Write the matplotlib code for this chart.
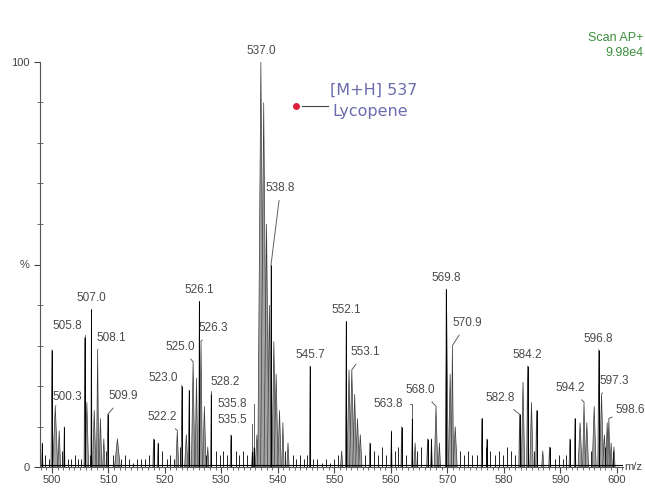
import matplotlib.pyplot as plt
from matplotlib.ticker import MultipleLocator

plt.rcParams['font.family'] = ['Liberation Sans', 'DejaVu Sans']

#Peaks (m/z, relative intensity %, half width in m/z)
peak_mz = [498.3, 500.0, 500.6, 501.3, 502.2, 505.8, 506.2, 507.0, 507.5, 508.1,
           508.6, 509.2, 509.9, 511.6, 518.0, 518.8, 522.2, 523.0, 523.8, 524.3,
           525.0, 525.6, 526.1, 526.4, 527.0, 527.6, 528.2, 531.7, 535.5, 535.8,
           536.3, 537.0, 537.5, 538.0, 538.5, 538.8, 539.3, 539.7, 540.3, 540.9,
           541.8, 545.7, 551.3, 552.1, 552.6, 553.1, 553.6, 554.1, 554.6, 556.3,
           560.1, 561.9, 563.8, 564.3, 566.5, 567.2, 568.0, 568.6, 569.8, 569.9,
           570.5, 570.9, 571.4, 576.1, 577.0, 582.8, 583.4, 584.2, 584.9, 585.8,
           586.9, 588.1, 591.7, 592.6, 593.5, 594.2, 594.7, 596.0, 596.8, 597.3,
           597.8, 598.3, 598.6, 599.0, 599.5]
peak_int = [6, 29, 15, 9, 10, 32, 16, 39, 14, 29,
            12, 7, 13, 7, 7, 6, 9, 20, 8, 19,
            26, 22, 41, 31, 15, 5, 18, 8, 4, 5,
            8, 100, 90, 60, 40, 50, 31, 23, 14, 11,
            6, 25, 4, 36, 24, 24, 18, 12, 8, 6,
            9, 10, 12, 6, 7, 7, 15, 6, 44, 38,
            23, 30, 10, 12, 7, 13, 21, 25, 16, 14,
            4, 5, 7, 12, 11, 16, 11, 15, 29, 18,
            8, 11, 12, 6, 5]
peak_wid = [0.12, 0.15, 0.45, 0.25, 0.12, 0.1, 0.3, 0.1, 0.3, 0.2,
            0.25, 0.2, 0.12, 0.5, 0.12, 0.12, 0.25, 0.12, 0.3, 0.15,
            0.3, 0.25, 0.1, 0.25, 0.3, 0.2, 0.1, 0.15, 0.15, 0.15,
            0.3, 0.55, 0.55, 0.45, 0.35, 0.12, 0.35, 0.35, 0.3, 0.2,
            0.2, 0.1, 0.2, 0.12, 0.35, 0.4, 0.35, 0.35, 0.3, 0.12,
            0.12, 0.1, 0.12, 0.2, 0.15, 0.15, 0.3, 0.2, 0.1, 0.25,
            0.3, 0.2, 0.35, 0.1, 0.1, 0.15, 0.3, 0.15, 0.3, 0.15,
            0.2, 0.15, 0.15, 0.15, 0.35, 0.25, 0.3, 0.35, 0.15, 0.35,
            0.3, 0.25, 0.2, 0.2, 0.2]

#Baseline noise spikes
noise_mz = [498.8, 499.5, 501.8, 502.8, 503.4, 504.1, 504.6, 505.2, 506.8, 509.5,
            510.8, 512.2, 512.9, 513.6, 514.3, 515.0, 515.8, 516.5, 517.2, 519.5,
            520.3, 521.0, 521.6, 522.7, 527.3, 529.0, 529.7, 530.3, 531.0, 532.6,
            533.2, 533.9, 534.5, 541.2, 542.6, 543.3, 543.9, 544.6, 545.1, 546.3,
            547.0, 547.8, 548.6, 549.3, 550.0, 550.6, 555.5, 557.0, 557.7, 558.4,
            559.2, 560.8, 561.2, 562.6, 564.6, 565.3, 572.3, 573.0, 573.7, 574.4,
            575.2, 576.9, 577.6, 578.4, 579.1, 579.8, 580.6, 581.3, 581.9, 585.3,
            589.0, 589.7, 590.4, 591.0, 595.4, 598.0, 599.3]
noise_int = [3, 2, 4, 2, 2, 3, 2, 2, 3, 4,
             3, 2, 3, 2, 1, 2, 2, 2, 3, 4,
             2, 3, 2, 5, 3, 4, 3, 4, 3, 4,
             3, 4, 3, 4, 3, 2, 3, 2, 3, 2,
             2, 1, 2, 1, 2, 3, 3, 4, 3, 5,
             3, 4, 5, 3, 4, 5, 4, 3, 4, 3,
             3, 5, 4, 3, 4, 3, 5, 4, 3, 4,
             2, 3, 2, 3, 4, 5, 4]

#Peak labels
label_txt = ['500.3', '505.8', '507.0', '508.1', '509.9', '522.2', '523.0', '525.0',
             '526.1', '526.3', '528.2', '535.8', '535.5', '537.0', '538.8', '545.7',
             '552.1', '553.1', '563.8', '568.0', '569.8', '570.9', '582.8', '584.2',
             '594.2', '596.8', '597.3', '598.6']
label_mz = [500.6, 505.8, 507.0, 508.1, 509.9, 522.2, 523.0, 525.0,
            526.1, 526.4, 528.2, 535.8, 535.5, 537.0, 538.8, 545.7,
            552.1, 553.1, 563.8, 568.0, 569.8, 570.9, 582.8, 584.2,
            594.2, 596.8, 597.3, 598.6]
label_int = [15, 32, 39, 29, 13, 9, 20, 26,
             41, 31, 18, 5, 4, 100, 50, 25,
             36, 24, 12, 15, 44, 30, 13, 25,
             16, 29, 18, 12]

#Where the labels sit (None = straight above the peak), and leader style
label_xy = [(502.8, 17.3), (502.8, 34.8), None, (510.6, 31.9), (512.6, 17.5), (519.6, 12.3),
            (519.8, 22.0), (522.7, 29.6), None, (528.5, 34.3), (530.6, 21.0), (531.9, 15.6),
            (532.0, 11.6), None, (540.5, 69.0), None, None, (555.4, 28.4),
            (559.6, 15.6), (565.3, 19.0), None, (573.5, 35.6), (579.3, 17.0), None,
            (591.7, 19.5), None, (599.5, 21.2), (602.3, 14.1)]
angled = ['505.8', '535.8', '535.5', '563.8', '528.2']

fig = plt.figure(figsize=(6.45, 4.9), dpi=100)
ax = fig.add_axes([40 / 645, 23 / 490, 583 / 645, 405 / 490])

#Draw spectrum
for m, h in zip(noise_mz, noise_int):
    ax.vlines(m, 0, h, color='black', lw=0.6)
for m, h, w in zip(peak_mz, peak_int, peak_wid):
    ax.fill([m - w, m, m + w], [0, h, 0], facecolor='#a3a3a3', edgecolor='#3c3c3c', lw=0.5)
    if w <= 0.15:
        ax.vlines(m, 0, h, color='black', lw=0.7)
ax.axhline(0.6, color='black', lw=0.8)

#Peak labels
for t, m, h, pos in zip(label_txt, label_mz, label_int, label_xy):
    if pos is None:
        ax.text(m, h + 1.2, t, ha='center', va='bottom', fontsize=8.5, color='#4a4a4a', clip_on=False)
    else:
        if t in angled:
            cs = 'angle,angleA=0,angleB=90,rad=0'
        else:
            cs = 'arc3'
        ax.annotate(t, xy=(m, h), xytext=pos, ha='center', va='center', fontsize=8.5,
                    color='#4a4a4a', annotation_clip=False,
                    arrowprops=dict(arrowstyle='-', color='#606060', lw=0.7,
                                    connectionstyle=cs, shrinkA=3, shrinkB=0))

#Lycopene note
ax.plot(543.2, 89.1, 'o', color='#e0203a', ms=4, clip_on=False)
ax.plot([544.2, 548.8], [89.1, 89.1], color='#444444', lw=0.8)
ax.text(549.2, 93, '[M+H] 537', fontsize=11.5, color='#6c6cae', va='center', family='DejaVu Sans')
ax.text(549.7, 87.7, 'Lycopene', fontsize=11.5, color='#6c6cae', va='center', family='DejaVu Sans')

#Axes
ax.set_xlim(497.9, 601.1)
ax.set_ylim(0, 100)
ax.spines['top'].set_visible(False)
ax.spines['right'].set_visible(False)
ax.spines['left'].set_color('#555555')
ax.spines['bottom'].set_color('#555555')
ax.xaxis.set_major_locator(MultipleLocator(10))
ax.xaxis.set_minor_locator(MultipleLocator(1))
ax.set_yticks([0, 50, 100])
ax.set_yticklabels(['0', '%', '100'])
ax.yaxis.set_minor_locator(MultipleLocator(10))
ax.tick_params(axis='both', which='major', labelsize=8, colors='#444444', length=4, width=0.8)
ax.tick_params(axis='both', which='minor', colors='#555555', length=2, width=0.6)
ax.tick_params(axis='y', which='minor', direction='inout', length=4)
ax.tick_params(axis='x', pad=2)
ax.text(601.4, 0, 'm/z', fontsize=8, color='#444444', va='center', ha='left', clip_on=False)

#Header
fig.text(643 / 645, 1 - 38 / 490, 'Scan AP+', fontsize=9, color='#3a8f3a', ha='right', va='center')
fig.text(644 / 645, 1 - 53 / 490, '9.98e4', fontsize=9, color='#3a8f3a', ha='right', va='center')

plt.savefig('out.png', dpi=100)
